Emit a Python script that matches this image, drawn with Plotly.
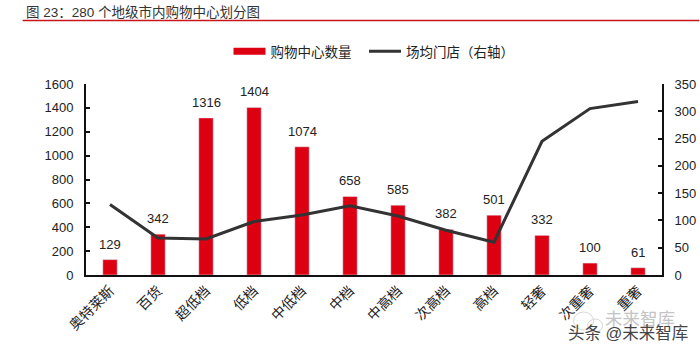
import plotly.graph_objects as go

categories = ["奥特莱斯", "百货", "超低档", "低档", "中低档", "中档", "中高档", "次高档", "高档", "轻奢", "次重奢", "重奢"]
mall_counts = [129, 342, 1316, 1404, 1074, 658, 585, 382, 501, 332, 100, 61]
avg_stores = [129, 68, 66, 98, 110, 127, 108, 82, 60, 245, 305, 318]
left_ticks = [0, 200, 400, 600, 800, 1000, 1200, 1400, 1600]
right_ticks = [0, 50, 100, 150, 200, 250, 300, 350]

FONT = "Liberation Sans, Noto Sans CJK SC, sans-serif"
RED = "#DC0012"
DARK = "#333333"
INK = "#111111"
W, H, L, R, T, B = 700, 352, 85.5, 37.5, 84, 77
PW, PH = W - L - R, H - T - B


def px(p):
    return (p - L) / PW


def py(p):
    return (H - B - p) / PH


fig = go.Figure()
fig.add_bar(x=categories, y=mall_counts, name="购物中心数量", marker_color=RED, width=0.3, showlegend=False)
# Legend key only: a wide red swatch like the reference's
fig.add_scatter(x=[None], y=[None], name="购物中心数量\u00a0\u00a0", mode="lines", line=dict(color=RED, width=7))
fig.add_scatter(x=categories, y=avg_stores, name="场均门店（右轴）", mode="lines", yaxis="y2",
                line=dict(color=DARK, width=3))

value_labels = [
    dict(x=c, y=v, text=str(v), yshift=6, yanchor="bottom", showarrow=False,
         font=dict(size=13, color="#222222"))
    for c, v in zip(categories, mall_counts)
]

fig.update_layout(
    width=W, height=H, autosize=False, paper_bgcolor="white", plot_bgcolor="white",
    margin=dict(l=L, r=R, t=T, b=B, autoexpand=False),
    font=dict(family=FONT, color="#222222"), bargap=0.7,
    legend=dict(orientation="h", x=0.5, xanchor="center", xref="paper", y=1.17, yanchor="middle",
                font=dict(size=13.5, family=FONT), traceorder="normal", itemwidth=32),
    xaxis=dict(tickangle=-45, tickfont=dict(size=14), showgrid=False, ticks="", automargin=False,
               showline=True, linecolor=INK, linewidth=2, categoryorder="array", categoryarray=categories),
    yaxis=dict(range=[0, 1600], tickvals=left_ticks, tickfont=dict(size=13), showgrid=False, zeroline=False,
               showline=True, linecolor=INK, linewidth=2, ticks="inside", ticklen=4, tickwidth=2, tickcolor=INK,
               ticklabelstandoff=8, automargin=False),
    yaxis2=dict(range=[0, 350], tickvals=right_ticks, overlaying="y", side="right", tickfont=dict(size=13),
                showgrid=False, zeroline=False, showline=True, linecolor=INK, linewidth=2,
                ticks="inside", ticklen=4, tickwidth=2, tickcolor=INK, ticklabelstandoff=8, automargin=False),
    annotations=value_labels + [
        dict(text="图 23：280 个地级市内购物中心划分图", xref="paper", yref="paper", x=px(23), y=py(12),
             xanchor="left", yanchor="middle", showarrow=False, font=dict(size=13.5, color="#333333")),
        dict(text="未来智库", xref="paper", yref="paper", x=px(678), y=py(319), xanchor="right", yanchor="middle",
             showarrow=False, font=dict(size=17.5, color="#C4C4C4")),
        dict(text="头条 @未来智库", xref="paper", yref="paper", x=px(691), y=py(333), xanchor="right", yanchor="middle",
             showarrow=False, font=dict(size=16.5, color="#444444")),
    ],
    shapes=[
        dict(type="line", xref="paper", yref="paper", x0=px(22), x1=px(700), y0=py(20.5), y1=py(20.5),
             line=dict(color="#C8161D", width=1.5)),
        dict(type="circle", xref="paper", yref="paper", x0=px(574), x1=px(594), y0=py(330), y1=py(312),
             line=dict(color="#D8D8D8", width=1)),
        dict(type="circle", xref="paper", yref="paper", x0=px(588), x1=px(603), y0=py(332), y1=py(319),
             line=dict(color="#D8D8D8", width=1)),
    ],
)
fig.write_html("out.html", config={"displayModeBar": False},
               post_script="document.body.style.margin='0';document.body.style.overflow='hidden';")
